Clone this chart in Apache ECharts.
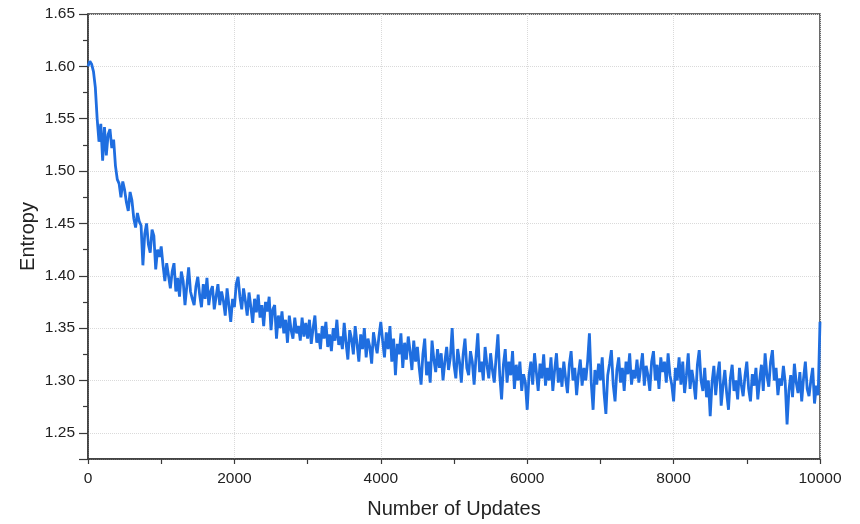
<!DOCTYPE html>
<html>
<head>
<meta charset="utf-8">
<script src="https://cdn.jsdelivr.net/npm/echarts@6/dist/echarts.min.js"></script>
<style>
  html, body { margin: 0; padding: 0; background: #fff; }
  #chart { width: 860px; height: 524px; }
</style>
</head>
<body>
<div id="chart"></div>
<script>
// x step between samples (number of updates)
const step = 25;
// entropy, one value every 25 updates, 0..10000
const entropy = [
  1.600, 1.605, 1.602, 1.595, 1.580, 1.550, 1.528, 1.545, 1.510, 1.542, 1.515, 1.535, 1.540, 1.522, 1.530, 1.505, 1.492, 1.488, 1.475, 1.490,
  1.482, 1.470, 1.462, 1.480, 1.472, 1.455, 1.446, 1.460, 1.452, 1.448, 1.410, 1.440, 1.450, 1.430, 1.422, 1.444, 1.438, 1.406, 1.425, 1.418,
  1.428, 1.410, 1.395, 1.412, 1.400, 1.388, 1.404, 1.412, 1.385, 1.398, 1.380, 1.404, 1.395, 1.372, 1.390, 1.408, 1.385, 1.378, 1.372, 1.390,
  1.399, 1.382, 1.370, 1.392, 1.378, 1.398, 1.372, 1.385, 1.390, 1.368, 1.380, 1.392, 1.372, 1.385, 1.376, 1.362, 1.388, 1.372, 1.356, 1.378,
  1.370, 1.392, 1.399, 1.380, 1.368, 1.388, 1.376, 1.362, 1.384, 1.370, 1.355, 1.378, 1.365, 1.382, 1.360, 1.372, 1.352, 1.375, 1.366, 1.380,
  1.348, 1.368, 1.372, 1.340, 1.362, 1.350, 1.366, 1.345, 1.358, 1.336, 1.362, 1.348, 1.340, 1.360, 1.345, 1.352, 1.338, 1.360, 1.342, 1.355,
  1.340, 1.358, 1.335, 1.350, 1.362, 1.336, 1.345, 1.330, 1.352, 1.340, 1.356, 1.332, 1.344, 1.328, 1.350, 1.338, 1.358, 1.334, 1.342, 1.330,
  1.355, 1.336, 1.320, 1.348, 1.340, 1.325, 1.352, 1.335, 1.318, 1.344, 1.330, 1.350, 1.322, 1.340, 1.332, 1.316, 1.346, 1.335, 1.326, 1.342,
  1.356, 1.338, 1.322, 1.346, 1.330, 1.352, 1.318, 1.340, 1.305, 1.335, 1.325, 1.345, 1.312, 1.336, 1.320, 1.342, 1.328, 1.310, 1.338, 1.318,
  1.332, 1.312, 1.296, 1.325, 1.340, 1.305, 1.318, 1.298, 1.338, 1.320, 1.308, 1.330, 1.312, 1.326, 1.300, 1.318, 1.332, 1.310, 1.322, 1.350,
  1.315, 1.302, 1.330, 1.318, 1.298, 1.325, 1.340, 1.312, 1.305, 1.328, 1.318, 1.296, 1.322, 1.345, 1.308, 1.318, 1.300, 1.332, 1.315, 1.302,
  1.326, 1.310, 1.298, 1.322, 1.344, 1.305, 1.282, 1.315, 1.330, 1.298, 1.318, 1.305, 1.328, 1.292, 1.315, 1.300, 1.318, 1.290, 1.306, 1.298,
  1.272, 1.305, 1.318, 1.296, 1.326, 1.308, 1.290, 1.316, 1.302, 1.325, 1.295, 1.312, 1.300, 1.322, 1.290, 1.310, 1.326, 1.298, 1.312, 1.294,
  1.318, 1.302, 1.288, 1.315, 1.328, 1.300, 1.312, 1.286, 1.306, 1.320, 1.295, 1.312, 1.300, 1.318, 1.345, 1.298, 1.272, 1.310, 1.296, 1.316,
  1.300, 1.322, 1.288, 1.268, 1.305, 1.316, 1.329, 1.296, 1.280, 1.310, 1.322, 1.298, 1.312, 1.290, 1.318, 1.306, 1.326, 1.296, 1.310, 1.302,
  1.320, 1.298, 1.312, 1.326, 1.295, 1.314, 1.305, 1.290, 1.318, 1.328, 1.300, 1.315, 1.292, 1.322, 1.308, 1.318, 1.298, 1.326, 1.305, 1.296,
  1.280, 1.312, 1.300, 1.322, 1.296, 1.318, 1.288, 1.305, 1.326, 1.292, 1.310, 1.298, 1.282, 1.315, 1.329, 1.300, 1.290, 1.312, 1.284, 1.300,
  1.266, 1.298, 1.314, 1.286, 1.305, 1.318, 1.276, 1.295, 1.310, 1.288, 1.272, 1.302, 1.315, 1.290, 1.300, 1.282, 1.312, 1.296, 1.285, 1.304,
  1.318, 1.292, 1.280, 1.306, 1.295, 1.312, 1.282, 1.300, 1.315, 1.290, 1.326, 1.305, 1.294, 1.318, 1.329, 1.300, 1.312, 1.286, 1.302, 1.295,
  1.314, 1.298, 1.258, 1.290, 1.305, 1.284, 1.316, 1.298, 1.288, 1.308, 1.280, 1.302, 1.318, 1.292, 1.285, 1.300, 1.312, 1.278, 1.295, 1.286,
  1.356
];
const xTicks = [0, 2000, 4000, 6000, 8000, 10000];
const yTicks = [1.25, 1.30, 1.35, 1.40, 1.45, 1.50, 1.55, 1.60, 1.65];

const points = entropy.map((v, i) => [i * step, v]);

const axisColor = '#3a3a3a';
const fontFamily = 'Liberation Sans, Arial, sans-serif';

const option = {
  animation: false,
  grid: {
    left: 88,
    right: 40,
    top: 14,
    bottom: 64,
    show: true,
    borderColor: axisColor,
    borderWidth: 1.5
  },
  xAxis: {
    type: 'value',
    min: xTicks[0],
    max: xTicks[xTicks.length - 1],
    interval: 2000,
    name: 'Number of Updates',
    nameLocation: 'middle',
    nameGap: 40,
    nameTextStyle: { fontSize: 20, color: '#222', fontFamily: fontFamily },
    axisLine: { lineStyle: { color: axisColor, width: 1.5 } },
    axisTick: { inside: false, length: 5, lineStyle: { color: axisColor, width: 1.2 } },
    minorTick: { show: true, splitNumber: 2, length: 5, lineStyle: { color: axisColor, width: 1.2 } },
    axisLabel: {
      fontSize: 15.5,
      color: '#222',
      margin: 12,
      fontFamily: fontFamily,
      formatter: v => String(v)
    },
    splitLine: { show: true, lineStyle: { color: '#dadada', type: 'dotted', width: 1 } }
  },
  yAxis: {
    type: 'value',
    min: 1.225,
    max: yTicks[yTicks.length - 1],
    splitNumber: 9,
    name: 'Entropy',
    nameLocation: 'middle',
    nameGap: 50,
    nameMoveOverlap: false,
    nameRotate: 90,
    nameTextStyle: { fontSize: 20, color: '#222', fontFamily: fontFamily },
    axisLine: { show: true, lineStyle: { color: axisColor, width: 1.5 } },
    axisTick: { show: true, length: 9, lineStyle: { color: axisColor, width: 1.2 } },
    minorTick: { show: true, splitNumber: 2, length: 5, lineStyle: { color: axisColor, width: 1.2 } },
    axisLabel: {
      fontSize: 15.5,
      color: '#222',
      margin: 13,
      fontFamily: fontFamily,
      formatter: v => (yTicks.some(t => Math.abs(t - v) < 1e-6) ? v.toFixed(2) : '')
    },
    splitLine: { show: true, lineStyle: { color: '#dadada', type: 'dotted', width: 1 } }
  },
  series: [
    {
      type: 'line',
      data: points,
      showSymbol: false,
      lineStyle: { color: '#1f6ee0', width: 2.8 },
      z: 3
    }
  ]
};

const chart = echarts.init(document.getElementById('chart'));
chart.setOption(option);
window.addEventListener('resize', function () {
  chart.resize();
});
</script>
</body>
</html>
